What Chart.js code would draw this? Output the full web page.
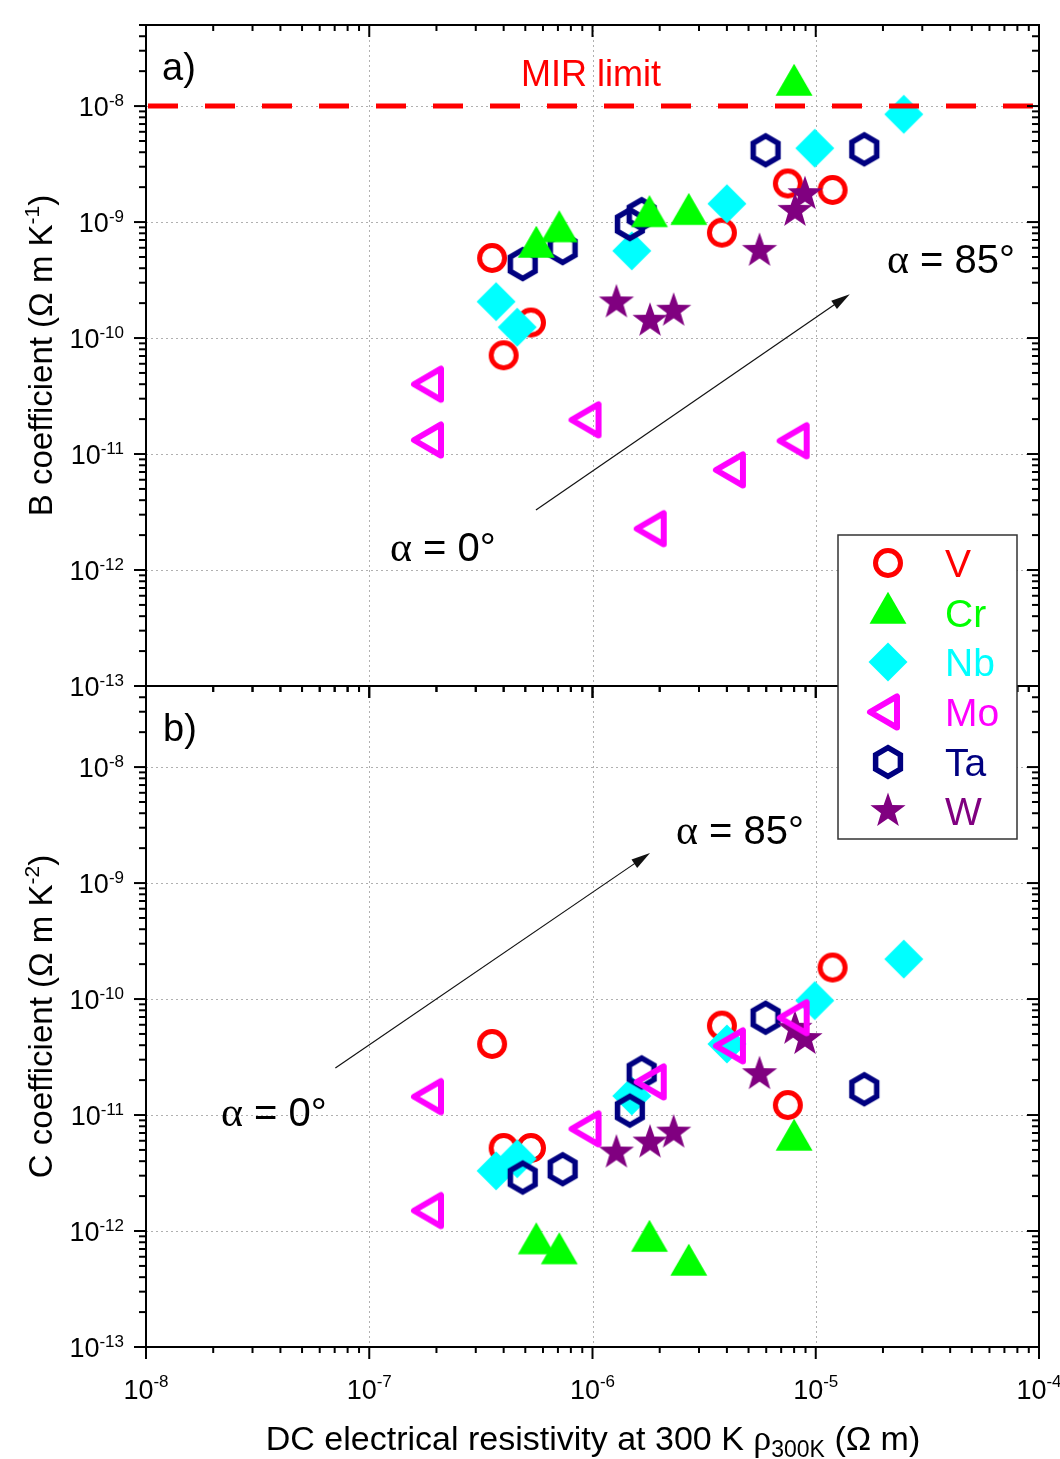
<!DOCTYPE html>
<html>
<head>
<meta charset="utf-8">
<title>B and C coefficients vs DC resistivity</title>
<script src="https://cdn.jsdelivr.net/npm/chart.js@4.4.1/dist/chart.umd.min.js"></script>
<style>
html,body{margin:0;padding:0;background:#ffffff;}
#c{display:block;}
</style>
</head>
<body>
<canvas id="c" width="1060" height="1459"></canvas>
<script>
const SANS = '"Liberation Sans", Arial, "DejaVu Sans", sans-serif';
const SERIF = '"Liberation Serif", "Times New Roman", "DejaVu Serif", serif';

// ---------------- data ----------------
const elements = ['V', 'Cr', 'Nb', 'Mo', 'Ta', 'W'];

const V_rho  = [3.55e-7, 4.0e-7, 5.3e-7, 3.8e-6, 7.5e-6, 1.19e-5];
const V_B    = [4.9e-10, 7.1e-11, 1.36e-10, 8.1e-10, 2.15e-9, 1.89e-9];
const V_C    = [4.1e-11, 5.2e-12, 5.2e-12, 5.9e-11, 1.22e-11, 1.87e-10];

const Cr_rho = [5.6e-7, 7.1e-7, 1.8e-6, 2.7e-6, 8.0e-6];
const Cr_B   = [6.1e-10, 8.3e-10, 1.12e-9, 1.17e-9, 1.52e-8];
const Cr_C   = [7.8e-13, 6.4e-13, 8.2e-13, 5.1e-13, 6.1e-12];

const Nb_rho = [3.7e-7, 4.6e-7, 1.5e-6, 4.0e-6, 9.9e-6, 2.48e-5];
const Nb_B   = [2.06e-10, 1.24e-10, 5.65e-10, 1.44e-9, 4.33e-9, 8.5e-9];
const Nb_C   = [3.3e-12, 4.2e-12, 1.46e-11, 4.1e-11, 9.7e-11, 2.21e-10];

const Mo_rho = [1.91e-7, 1.91e-7, 9.7e-7, 1.9e-6, 4.3e-6, 8.3e-6];
const Mo_B   = [4.0e-11, 1.32e-11, 1.97e-11, 2.27e-12, 7.3e-12, 1.3e-11];
const Mo_C   = [1.44e-11, 1.5e-12, 7.6e-12, 1.93e-11, 3.95e-11, 6.9e-11];

const Ta_rho = [4.87e-7, 7.35e-7, 1.47e-6, 1.66e-6, 5.96e-6, 1.65e-5];
const Ta_B   = [4.34e-10, 5.96e-10, 9.6e-10, 1.17e-9, 4.16e-9, 4.24e-9];
const Ta_C   = [2.89e-12, 3.41e-12, 1.09e-11, 2.33e-11, 6.9e-11, 1.67e-11];

const W_rho  = [1.28e-6, 1.81e-6, 2.31e-6, 5.6e-6, 8.07e-6, 8.95e-6];
const W_B    = [2.03e-10, 1.41e-10, 1.72e-10, 5.65e-10, 1.25e-9, 1.74e-9];
const W_C    = [4.75e-12, 5.79e-12, 7.06e-12, 2.25e-11, 5.54e-11, 4.52e-11];

const MIR_rho = [1e-8, 1e-4];
const MIR_B   = [1e-8, 1e-8];

const arrowB_rho = [5.58e-7, 1.42e-5];
const arrowB_val = [3.29e-12, 2.39e-10];
const arrowC_rho = [7.05e-8, 1.81e-6];
const arrowC_val = [2.54e-11, 1.815e-9];

const xTicks   = [1e-8, 1e-7, 1e-6, 1e-5, 1e-4];
const xTickExp = ['-8', '-7', '-6', '-5', '-4'];
const yTicks   = [1e-13, 1e-12, 1e-11, 1e-10, 1e-9, 1e-8];
const yTickExp = ['-13', '-12', '-11', '-10', '-9', '-8'];
const xGrid = [1e-7, 1e-6, 1e-5];
const yGrid = [1e-12, 1e-11, 1e-10, 1e-9, 1e-8];

// ---------------- marker images ----------------
const COLORS = { V: '#FF0000', Cr: '#00FF00', Nb: '#00FFFF', Mo: '#FF00FF', Ta: '#000080', W: '#800080' };

function mk(draw) {
  const c = document.createElement('canvas');
  c.width = 48; c.height = 48;
  const g = c.getContext('2d');
  g.translate(24, 24);
  draw(g);
  return c;
}
function poly(g, n, R, startDeg) {
  g.beginPath();
  for (let k = 0; k < n; k++) {
    const a = (startDeg + k * 360 / n) * Math.PI / 180;
    const px = R * Math.cos(a), py = R * Math.sin(a);
    if (k === 0) g.moveTo(px, py); else g.lineTo(px, py);
  }
  g.closePath();
}
const MK = {
  V: mk(g => { g.strokeStyle = COLORS.V; g.lineWidth = 5; g.beginPath(); g.arc(0, 0, 12.5, 0, Math.PI * 2); g.stroke(); }),
  Cr: mk(g => { g.fillStyle = COLORS.Cr; poly(g, 3, 21.3, -90); g.fill(); }),
  Nb: mk(g => { g.fillStyle = COLORS.Nb; poly(g, 4, 19.5, -90); g.fill(); }),
  Mo: mk(g => { g.strokeStyle = COLORS.Mo; g.lineWidth = 6; g.lineJoin = 'round'; poly(g, 3, 18, 180); g.stroke(); }),
  Ta: mk(g => { g.strokeStyle = COLORS.Ta; g.lineWidth = 5.5; g.lineJoin = 'miter'; poly(g, 6, 14.3, -90); g.stroke(); }),
  W: mk(g => {
    g.fillStyle = COLORS.W; g.beginPath();
    for (let k = 0; k < 10; k++) {
      const r = k % 2 === 0 ? 18.5 : 7.4;
      const a = (-90 + k * 36) * Math.PI / 180;
      if (k === 0) g.moveTo(r * Math.cos(a), r * Math.sin(a)); else g.lineTo(r * Math.cos(a), r * Math.sin(a));
    }
    g.closePath(); g.fill();
  })
};

// ---------------- datasets ----------------
const seriesDefs = [
  { name: 'V',  rho: V_rho,  B: V_B,  C: V_C,  order: 6 },
  { name: 'Cr', rho: Cr_rho, B: Cr_B, C: Cr_C, order: 2 },
  { name: 'Nb', rho: Nb_rho, B: Nb_B, C: Nb_C, order: 5 },
  { name: 'Mo', rho: Mo_rho, B: Mo_B, C: Mo_C, order: 1 },
  { name: 'Ta', rho: Ta_rho, B: Ta_B, C: Ta_C, order: 4 },
  { name: 'W',  rho: W_rho,  B: W_B,  C: W_C,  order: 3 }
];
const pts = (xs, ys) => xs.map((x, i) => ({ x: x, y: ys[i] }));

const datasets = [];
datasets.push({
  label: 'MIR limit', type: 'line', data: pts(MIR_rho, MIR_B), yAxisID: 'yB',
  borderColor: '#FF0000', borderWidth: 5, borderDash: [30, 27], borderDashOffset: -2, pointRadius: 0,
  showLine: true, fill: false, order: 0
});
for (const s of seriesDefs) {
  for (const ax of ['B', 'C']) {
    datasets.push({
      label: s.name + ' ' + ax, data: pts(s.rho, s[ax]), yAxisID: 'y' + ax,
      pointStyle: MK[s.name], pointRadius: 12, showLine: false, order: s.order
    });
  }
}

// ---------------- drawing helpers ----------------
function rich(ctx, parts, x, y, align) {
  let w = 0; const ws = [];
  for (const p of parts) { ctx.font = p.f; const m = ctx.measureText(p.t).width; ws.push(m); w += m; }
  let cx = align === 'center' ? x - w / 2 : (align === 'right' ? x - w : x);
  ctx.textAlign = 'left'; ctx.textBaseline = 'alphabetic';
  parts.forEach((p, i) => { ctx.font = p.f; ctx.fillStyle = p.c || '#000'; ctx.fillText(p.t, cx, y + (p.dy || 0)); cx += ws[i]; });
  return w;
}
function seg(ctx, x0, y0, x1, y1) { ctx.beginPath(); ctx.moveTo(x0, y0); ctx.lineTo(x1, y1); ctx.stroke(); }
function logTicks(min, max) {
  const out = [];
  for (let e = Math.floor(Math.log10(min)) - 1; e <= Math.ceil(Math.log10(max)); e++) {
    for (let m = 1; m <= 9; m++) {
      const v = m * Math.pow(10, e);
      if (v >= min * 0.999 && v <= max * 1.001) out.push({ v: v, major: m === 1 });
    }
  }
  return out;
}
function arrow(ctx, x0, y0, x1, y1) {
  ctx.save();
  ctx.strokeStyle = '#111'; ctx.fillStyle = '#111'; ctx.lineWidth = 1.2;
  const a = Math.atan2(y1 - y0, x1 - x0), L = 19, H = 5;
  const bx = x1 - L * Math.cos(a), by = y1 - L * Math.sin(a);
  seg(ctx, x0, y0, bx + 2 * Math.cos(a), by + 2 * Math.sin(a));
  ctx.beginPath();
  ctx.moveTo(x1, y1);
  ctx.lineTo(bx + H * Math.sin(a), by - H * Math.cos(a));
  ctx.lineTo(bx - H * Math.sin(a), by + H * Math.cos(a));
  ctx.closePath(); ctx.fill();
  ctx.restore();
}

const decoPlugin = {
  id: 'deco',
  beforeDatasetsDraw(chart) {
    const ctx = chart.ctx, xs = chart.scales.x;
    ctx.save();
    ctx.strokeStyle = '#b0b0b0'; ctx.lineWidth = 1; ctx.setLineDash([2, 3]);
    for (const id of ['yB', 'yC']) {
      const ys = chart.scales[id];
      for (const v of xGrid) { const px = Math.round(xs.getPixelForValue(v)) + 0.5; seg(ctx, px, ys.top, px, ys.bottom); }
      for (const v of yGrid) { const py = Math.round(ys.getPixelForValue(v)) + 0.5; seg(ctx, xs.left, py, xs.right, py); }
    }
    ctx.restore();
  },
  afterDatasetsDraw(chart) {
    const ctx = chart.ctx, xs = chart.scales.x, yB = chart.scales.yB, yC = chart.scales.yC;
    ctx.save();

    // arrows
    arrow(ctx, xs.getPixelForValue(arrowB_rho[0]), yB.getPixelForValue(arrowB_val[0]),
               xs.getPixelForValue(arrowB_rho[1]), yB.getPixelForValue(arrowB_val[1]));
    arrow(ctx, xs.getPixelForValue(arrowC_rho[0]), yC.getPixelForValue(arrowC_val[0]),
               xs.getPixelForValue(arrowC_rho[1]), yC.getPixelForValue(arrowC_val[1]));

    // angle labels
    const alpha = (t, x, y) => rich(ctx, [{ t: 'α', f: '42px ' + SERIF }, { t: ' = ' + t, f: '40px ' + SANS }], x, y, 'left');
    alpha('85°', 887, 273);
    alpha('0°', 390, 561);
    alpha('85°', 676, 844);
    alpha('0°', 221, 1126);

    // MIR label and panel labels
    rich(ctx, [{ t: 'MIR limit', f: '36px ' + SANS, c: '#FF0000' }], 521, 86, 'left');
    rich(ctx, [{ t: 'a)', f: '38px ' + SANS }], 162, 80, 'left');
    rich(ctx, [{ t: 'b)', f: '38px ' + SANS }], 163, 741, 'left');

    // frames and ticks
    ctx.strokeStyle = '#000'; ctx.lineWidth = 2; ctx.setLineDash([]);
    const xt = logTicks(xs.min, xs.max);
    for (const ys of [yB, yC]) {
      ctx.strokeRect(xs.left, ys.top, xs.right - xs.left, ys.bottom - ys.top);
      for (const t of xt) {
        const px = xs.getPixelForValue(t.v), len = t.major ? 12 : 6;
        seg(ctx, px, ys.top, px, ys.top + len);
        seg(ctx, px, ys.bottom, px, ys.bottom + len);
      }
      for (const t of logTicks(ys.min, ys.max)) {
        const py = ys.getPixelForValue(t.v), len = t.major ? 12 : 7;
        seg(ctx, xs.left, py, xs.left - len, py);
        seg(ctx, xs.right, py, xs.right - len, py);
      }
      yTicks.forEach((v, i) => {
        const py = ys.getPixelForValue(v);
        rich(ctx, [{ t: '10', f: '27px ' + SANS }, { t: yTickExp[i], f: '17px ' + SANS, dy: -10 }], 124, py + 10, 'right');
      });
    }
    xTicks.forEach((v, i) => {
      const px = xs.getPixelForValue(v);
      rich(ctx, [{ t: '10', f: '27px ' + SANS }, { t: xTickExp[i], f: '17px ' + SANS, dy: -12 }], px, yC.bottom + 52, 'center');
    });

    // axis titles
    rich(ctx, [
      { t: 'DC electrical resistivity at 300 K ', f: '34px ' + SANS },
      { t: 'ρ', f: '36px ' + SERIF },
      { t: '300K', f: '23px ' + SANS, dy: 7 },
      { t: ' (Ω m)', f: '34px ' + SANS }
    ], 593, 1450, 'center');
    const ytitle = (ys, letter, exp) => {
      ctx.save();
      ctx.translate(52, (ys.top + ys.bottom) / 2);
      ctx.rotate(-Math.PI / 2);
      rich(ctx, [
        { t: letter + ' coefficient (Ω m K', f: '33px ' + SANS },
        { t: exp, f: '21px ' + SANS, dy: -13 },
        { t: ')', f: '33px ' + SANS }
      ], 0, 0, 'center');
      ctx.restore();
    };
    ytitle(yB, 'B', '-1');
    ytitle(yC, 'C', '-2');

    // legend
    const lx = 838, ly = 535, lw = 179, lh = 304;
    ctx.fillStyle = '#ffffff'; ctx.fillRect(lx, ly, lw, lh);
    ctx.strokeStyle = '#333'; ctx.lineWidth = 1.5; ctx.strokeRect(lx, ly, lw, lh);
    const rows = [563, 613, 662, 712, 762, 811];
    elements.forEach((name, i) => {
      const im = MK[name];
      ctx.drawImage(im, 888 - im.width / 2, rows[i] - im.height / 2);
      rich(ctx, [{ t: name, f: '39px ' + SANS, c: COLORS[name] }], 945, rows[i] + 14, 'left');
    });

    ctx.restore();
  }
};

const axisCommon = {
  type: 'logarithmic', display: false,
  ticks: { display: false }, grid: { display: false }, border: { display: false }
};

new Chart(document.getElementById('c'), {
  type: 'scatter',
  data: { datasets: datasets },
  options: {
    responsive: false, animation: false, events: [],
    layout: { padding: { left: 146, right: 21, top: 25, bottom: 112 } },
    plugins: { legend: { display: false }, tooltip: { enabled: false } },
    scales: {
      x: Object.assign({}, axisCommon, { position: 'bottom', min: 1e-8, max: 1e-4, afterFit: s => { s.height = 0; } }),
      yC: Object.assign({}, axisCommon, { position: 'left', stack: 'panels', stackWeight: 1, min: 1e-13, max: 5e-8, afterFit: s => { s.width = 0; } }),
      yB: Object.assign({}, axisCommon, { position: 'left', stack: 'panels', stackWeight: 1, min: 1e-13, max: 5e-8, afterFit: s => { s.width = 0; } })
    }
  },
  plugins: [decoPlugin]
});
</script>
</body>
</html>
